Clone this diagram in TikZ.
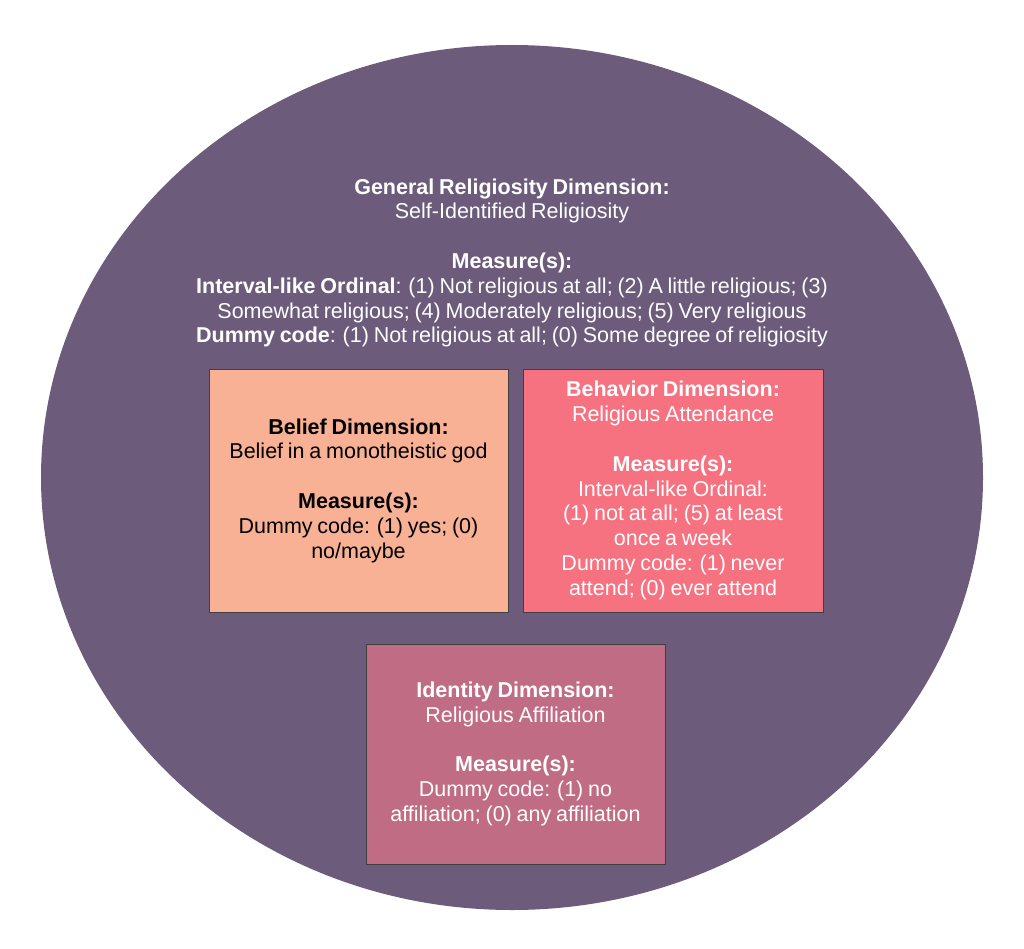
\documentclass[tikz,border=0pt]{standalone}
\usepackage{fontspec}
\setmainfont[WordSpace=0.8]{Liberation Sans}
\usepackage{tikz}
\usetikzlibrary{shapes.geometric}
\definecolor{purp}{HTML}{6C5B7B}
\definecolor{peach}{HTML}{F8B195}
\definecolor{rose}{HTML}{F67280}
\definecolor{mauve}{HTML}{C06C84}
\tikzstyle{txt} = [align=center,font=\fontsize{21.5}{24.8}\selectfont]
\tikzstyle{ring} = [ellipse,fill=purp,inner sep=0pt]
\tikzstyle{dim} = [txt,draw=black!75,line width=0.8pt,inner sep=0pt]

\begin{document}
\begin{tikzpicture}[x=1pt,y=-1pt]

% Canvas and outer dimension

    \useasboundingbox[fill=white] (0,0) rectangle (1024,949);
    \node[ring,minimum width=942pt,minimum height=865pt] at (512,477.5) (relig) {};
    \node[txt,text=white] at (512,263) (general) {\textbf{General Religiosity Dimension:}\\
        Self-Identified Religiosity\\[24.8pt]
        \textbf{Measure(s):}\\
        \textbf{Interval-like Ordinal}: (1) Not religious at all; (2) A little religious; (3)\\
        Somewhat religious; (4) Moderately religious; (5) Very religious\\
        \textbf{Dummy code}: (1) Not religious at all; (0) Some degree of religiosity};

% Inner dimensions

    \node[dim,fill=peach,text=black,minimum width=299pt,minimum height=243pt] at (358.5,490.5) (belief) {\textbf{Belief Dimension:}\\
        Belief in a monotheistic god\\[24.8pt]
        \textbf{Measure(s):}\\
        Dummy code: (1) yes; (0)\\
        no/maybe};
    \node[dim,fill=rose,text=white,minimum width=300pt,minimum height=243pt] at (673,490.5) (behavior) {\textbf{Behavior Dimension:}\\
        Religious Attendance\\[24.8pt]
        \textbf{Measure(s):}\\
        Interval-like Ordinal:\\
        (1) not at all; (5) at least\\
        once a week\\
        Dummy code: (1) never\\
        attend; (0) ever attend};
    \node[dim,fill=mauve,text=white,minimum width=299pt,minimum height=220pt] at (515.5,754) (identity) {\textbf{Identity Dimension:}\\
        Religious Affiliation\\[24.8pt]
        \textbf{Measure(s):}\\
        Dummy code: (1) no\\
        affiliation; (0) any affiliation};

\end{tikzpicture}
\end{document}
